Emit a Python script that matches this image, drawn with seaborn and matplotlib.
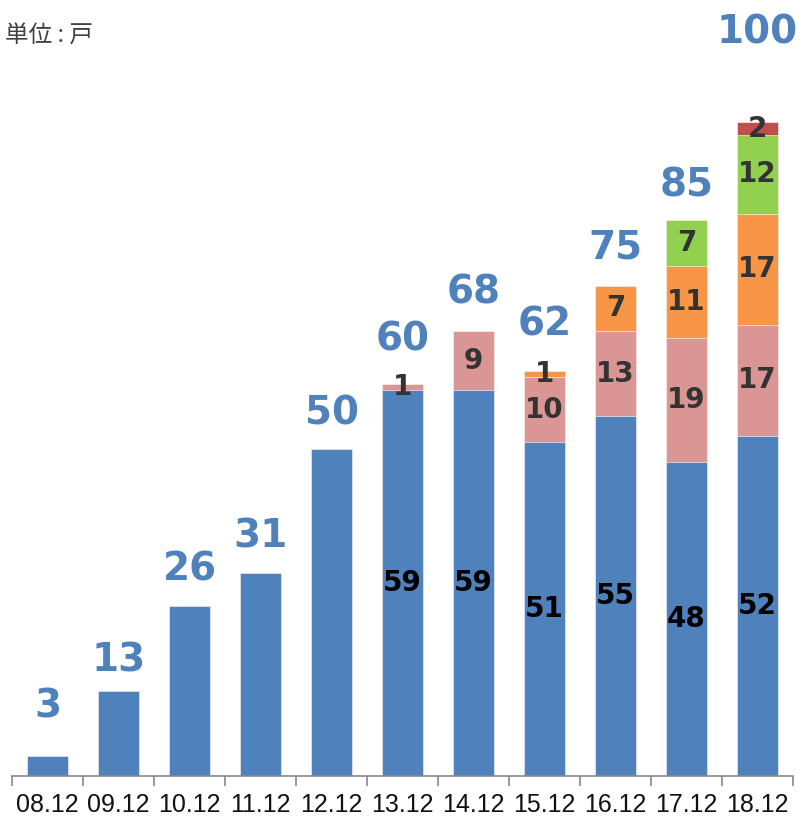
import matplotlib
matplotlib.use("Agg")
import matplotlib.pyplot as plt
import numpy as np
import seaborn as sns

# data (unit: 戸)
periods = ["08.12", "09.12", "10.12", "11.12", "12.12", "13.12",
           "14.12", "15.12", "16.12", "17.12", "18.12"]
blue = [3, 13, 26, 31, 50, 59, 59, 51, 55, 48, 52]
pink = [0, 0, 0, 0, 0, 1, 9, 10, 13, 19, 17]
orange = [0, 0, 0, 0, 0, 0, 0, 1, 7, 11, 17]
green = [0, 0, 0, 0, 0, 0, 0, 0, 0, 7, 12]
red = [0, 0, 0, 0, 0, 0, 0, 0, 0, 0, 2]

layers = [blue, pink, orange, green, red]
colors = ["#4F81BD", "#D99694", "#F79646", "#92D050", "#C0504D"]
seg_text = ["black", "#333333", "#333333", "#333333", "#333333"]
# gap (px) between bar top and centre of the total label, as in the picture
label_gap_px = [50, 30, 36, 37, 36, 44, 39, 46, 38, 35, 90]

sns.set_style("white")
plt.rcParams["font.family"] = ["DejaVu Sans"]

fig = plt.figure(figsize=(8.02, 8.17), dpi=100)
ax = fig.add_axes([12 / 802, 41 / 817, 781 / 802, 771.7 / 817])

cum = np.cumsum(np.array(layers), axis=0)
# draw from the tallest cumulative layer down so every layer shows its own part
for i in range(len(layers) - 1, -1, -1):
    sns.barplot(x=periods, y=cum[i], color=colors[i], width=0.58,
                saturation=1, edgecolor="white", linewidth=0.4, ax=ax)

ax.set_xlim(-0.5, len(periods) - 0.5)
ax.set_ylim(0, 118)

# segment labels (only for bars that are stacked)
for j in range(len(periods)):
    if sum(l[j] for l in layers[1:]) == 0:
        continue
    for i, lay in enumerate(layers):
        v = lay[j]
        if v <= 0:
            continue
        base = cum[i][j] - v
        ax.text(j, base + v / 2, str(v), ha="center", va="center",
                fontsize=20, fontweight="bold", color=seg_text[i])

# totals above bars
totals = cum[-1]
for j, t in enumerate(totals):
    ax.annotate(str(t), (j, t), xytext=(0, label_gap_px[j] * 0.72),
                textcoords="offset points", ha="center", va="center",
                fontsize=28, fontweight="bold", color="#4F81BD")

# axis styling
for s in ["left", "top", "right"]:
    ax.spines[s].set_visible(False)
ax.spines["bottom"].set_color("#888888")
ax.spines["bottom"].set_linewidth(1.2)
ax.set_yticks([])
ax.set_xlabel("")
ax.set_ylabel("")
ax.set_xticks(range(len(periods)))
ax.set_xticklabels(periods, fontsize=18, color="#111111",
                   family=["Liberation Sans", "DejaVu Sans"])
ax.tick_params(axis="x", which="major", length=0, pad=12)
ax.set_xticks(np.arange(-0.5, len(periods), 1), minor=True)
ax.tick_params(axis="x", which="minor", bottom=True, length=7, width=1.2,
               color="#888888", direction="out")

fig.text(5 / 802, 1 - 36 / 817, "単位 : 戸", ha="left", va="center",
         fontsize=17, color="#404040",
         family=["Noto Sans CJK JP", "DejaVu Sans"])

fig.savefig("out.png", dpi=100)
